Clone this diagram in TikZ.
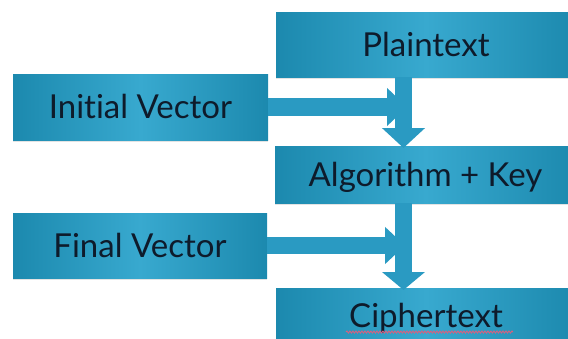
\documentclass[tikz,border=0pt]{standalone}
\usepackage{fontspec}
\setmainfont{Lato}[Ligatures=NoCommon]
\usetikzlibrary{arrows.meta,shadows,decorations.pathmorphing}
\definecolor{boxedge}{HTML}{1C89AE}
\definecolor{boxmid}{HTML}{38A9CF}
\definecolor{ink}{HTML}{0E1B2B}
\definecolor{flow}{HTML}{2A9AC2}
\definecolor{squig}{HTML}{D8607E}

\begin{document}
\begin{tikzpicture}[x=1pt,y=-1pt,
  stage/.style={anchor=north west, inner sep=0pt, outer sep=0pt,
    left color=boxedge, right color=boxedge, middle color=boxmid,
    text=ink, font=\fontsize{33}{33}\selectfont,
    text height=23pt, text depth=0pt,
    drop shadow={shadow xshift=0pt, shadow yshift=-2pt, opacity=0.22}},
  flowarrow/.style={draw=flow, line width=17pt},
]
\useasboundingbox (0,0) rectangle (568,338);
\clip (0,0) rectangle (568,338);

% stages of the encryption chain
\node[stage, minimum width=300pt, minimum height=65pt] (plain) at (276,12) {Plaintext};
\node[stage, minimum width=255pt, minimum height=66pt] (init)  at (13,74)   {Initial Vector};
\node[stage, minimum width=301pt, minimum height=57pt] (alg)   at (275,146) {Algorithm + Key};
\node[stage, minimum width=254pt, minimum height=65pt] (fin)   at (13,213)  {Final Vector};
\node[stage, minimum width=300pt, minimum height=56pt] (ciph)  at (276,288) {Ciphertext};

% spell-check underline
\draw[squig, line width=0.9pt, decorate,
      decoration={snake, amplitude=1pt, segment length=3pt}]
  (346,332) -- (513,332);

% helper coordinates for the block arrows
\coordinate (vx) at (403.5,0);
\coordinate (h1) at (407,107);
\coordinate (h2) at (405,245.5);

% vertical flow
\draw[flowarrow, -{Triangle[width=42pt,length=20pt]}]
  (plain.south -| vx) -- ([yshift=-2pt]alg.north -| vx);
\draw[flowarrow, -{Triangle[width=42pt,length=18pt]}]
  (alg.south -| vx) -- ([yshift=-2pt]ciph.north -| vx);

% vectors feeding in from the left
\draw[flowarrow, line width=18pt, -{Triangle[width=37pt,length=20pt]}]
  (init.east) -- (h1);
\draw[flowarrow, line width=17pt, -{Triangle[width=36pt,length=20pt]}]
  (fin.east) -- (h2);
\end{tikzpicture}
\end{document}
